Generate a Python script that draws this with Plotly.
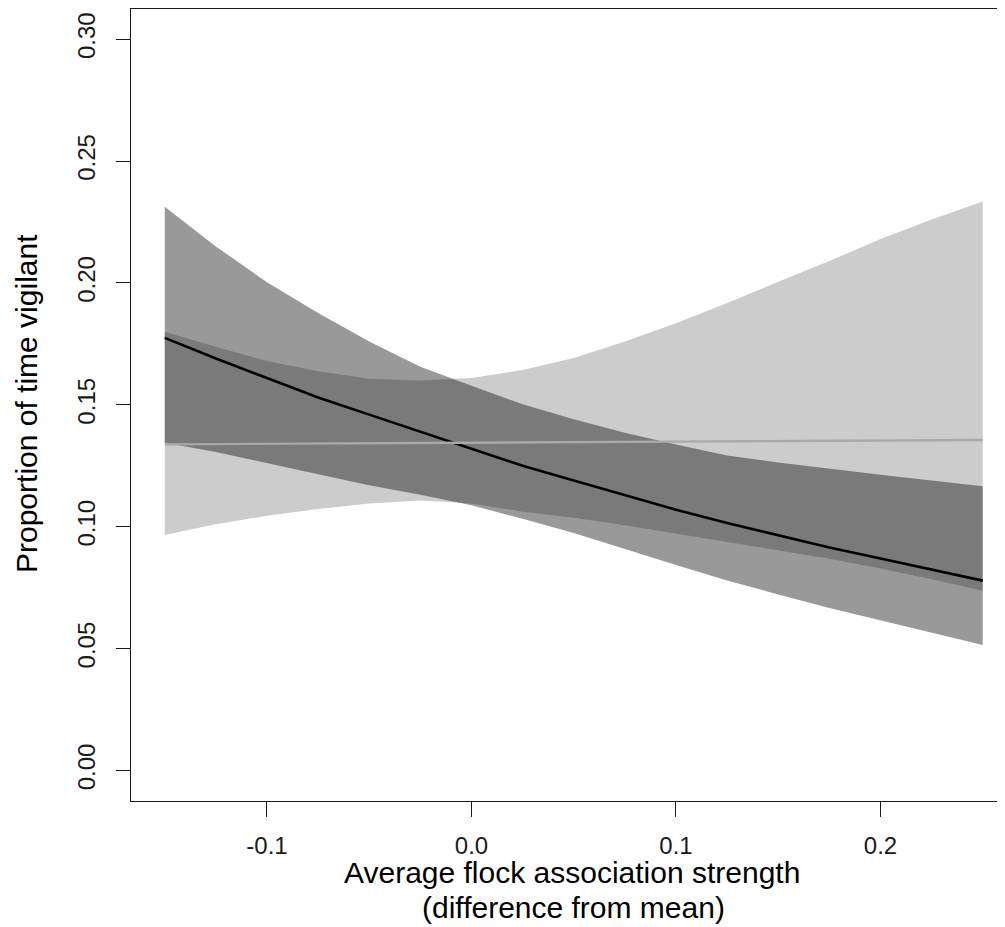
import plotly.graph_objects as go

# x grid (difference from mean association strength)
x_vals = [-0.150, -0.125, -0.100, -0.075, -0.050, -0.025, 0.000, 0.025, 0.050,
          0.075, 0.100, 0.125, 0.150, 0.175, 0.200, 0.225, 0.250]

# Model A (flat fit, light band + grey line)
a_fit = [0.1338, 0.1339, 0.1340, 0.1341, 0.1342, 0.1343, 0.1344, 0.1345, 0.1346,
         0.1347, 0.1348, 0.1349, 0.1350, 0.1352, 0.1353, 0.1355, 0.1356]
a_upper = [0.1800, 0.1738, 0.1680, 0.1638, 0.1607, 0.1600, 0.1610, 0.1643, 0.1692,
           0.1760, 0.1835, 0.1918, 0.2005, 0.2090, 0.2180, 0.2260, 0.2334]
a_lower = [0.0966, 0.1010, 0.1045, 0.1073, 0.1095, 0.1108, 0.1095, 0.1062, 0.1037,
           0.1006, 0.0971, 0.0936, 0.0904, 0.0869, 0.0829, 0.0785, 0.0738]

# Model B (declining fit, darker band + black line)
b_fit = [0.1775, 0.1690, 0.1610, 0.1530, 0.1460, 0.1390, 0.1320, 0.1250, 0.1190,
         0.1130, 0.1070, 0.1015, 0.0965, 0.0915, 0.0870, 0.0825, 0.0779]
b_upper = [0.2313, 0.2150, 0.2003, 0.1877, 0.1760, 0.1656, 0.1578, 0.1503, 0.1441,
           0.1386, 0.1337, 0.1292, 0.1264, 0.1237, 0.1213, 0.1190, 0.1166]
b_lower = [0.1345, 0.1307, 0.1261, 0.1215, 0.1170, 0.1131, 0.1088, 0.1033, 0.0974,
           0.0909, 0.0843, 0.0780, 0.0722, 0.0667, 0.0616, 0.0565, 0.0515]

x_ticks = [-0.1, 0.0, 0.1, 0.2]
x_tick_text = ["-0.1", "0.0", "0.1", "0.2"]
y_ticks = [0.00, 0.05, 0.10, 0.15, 0.20, 0.25, 0.30]
y_tick_text = ["0.00", "0.05", "0.10", "0.15", "0.20", "0.25", "0.30"]

x_title_1 = "Average flock association strength"
x_title_2 = "(difference from mean)"
y_title = "Proportion of time vigilant"

FONT = "Liberation Sans, Arial, sans-serif"

# the page body has an 8px margin; lay out in page pixels and subtract it
OFF = 8
PAGE_W, PAGE_H = 1005, 927
W, H = PAGE_W - OFF, PAGE_H - OFF
plot_left, plot_top, plot_bottom, plot_right = 131, 9, 801, 1005  # page px
L = plot_left - OFF
T = plot_top - OFF
R = W - (plot_right - OFF)
B = H - (plot_bottom - OFF)

fig = go.Figure()

fig.add_trace(go.Scatter(
    x=x_vals + x_vals[::-1], y=a_upper + a_lower[::-1],
    fill="toself", fillcolor="rgba(0,0,0,0.2)", mode="lines",
    line=dict(width=0), hoverinfo="skip", showlegend=False))
fig.add_trace(go.Scatter(
    x=x_vals + x_vals[::-1], y=b_upper + b_lower[::-1],
    fill="toself", fillcolor="rgba(0,0,0,0.4)", mode="lines",
    line=dict(width=0), hoverinfo="skip", showlegend=False))
fig.add_trace(go.Scatter(
    x=x_vals, y=b_fit, mode="lines",
    line=dict(color="black", width=2.6), showlegend=False))
fig.add_trace(go.Scatter(
    x=x_vals, y=a_fit, mode="lines",
    line=dict(color="#a9a9a9", width=2.4), showlegend=False))

px_per_x = 2045.0
x_left = -0.1665
x_right = x_left + (plot_right - plot_left) / px_per_x

fig.update_layout(
    width=W, height=H,
    margin=dict(l=L, r=R, t=T, b=B, autoexpand=False),
    paper_bgcolor="white", plot_bgcolor="white",
    font=dict(family=FONT, color="black"),
    showlegend=False,
    xaxis=dict(
        range=[x_left, x_right], tickvals=x_ticks, ticktext=x_tick_text,
        showgrid=False, zeroline=False, showline=True, mirror=True,
        linecolor="#1a1a1a", linewidth=1.3,
        ticks="outside", ticklen=15, tickwidth=1.3, tickcolor="#1a1a1a",
        tickfont=dict(family=FONT, size=24, color="#1a1a1a"),
        ticklabelstandoff=8,
    ),
    yaxis=dict(
        range=[-0.0125, 0.3124], tickvals=y_ticks, ticktext=y_tick_text,
        showgrid=False, zeroline=False, showline=True, mirror=False,
        linecolor="#1a1a1a", linewidth=1.3,
        ticks="outside", ticklen=14, tickwidth=1.3, tickcolor="#1a1a1a",
        tickfont=dict(family=FONT, size=24, color="#1a1a1a"),
        tickangle=-90, ticklabelstandoff=11,
    ),
)

pw = W - L - R
ph = H - T - B

def px_x(p):
    # page px -> paper fraction
    return (p - OFF - L) / pw

def px_y(p):
    return (H - B - (p - OFF)) / ph

fig.add_annotation(text=x_title_1, xref="paper", yref="paper",
                   x=px_x(572), y=px_y(873), xanchor="center", yanchor="middle",
                   showarrow=False, font=dict(family=FONT, size=30, color="black"))
fig.add_annotation(text=x_title_2, xref="paper", yref="paper",
                   x=px_x(573), y=px_y(907), xanchor="center", yanchor="middle",
                   showarrow=False, font=dict(family=FONT, size=30, color="black"))
fig.add_annotation(text=y_title, xref="paper", yref="paper",
                   x=px_x(26), y=px_y(404), xanchor="center", yanchor="middle",
                   textangle=-90, showarrow=False,
                   font=dict(family=FONT, size=30, color="black"))

fig.write_html("out.html", config={"displayModeBar": False})
